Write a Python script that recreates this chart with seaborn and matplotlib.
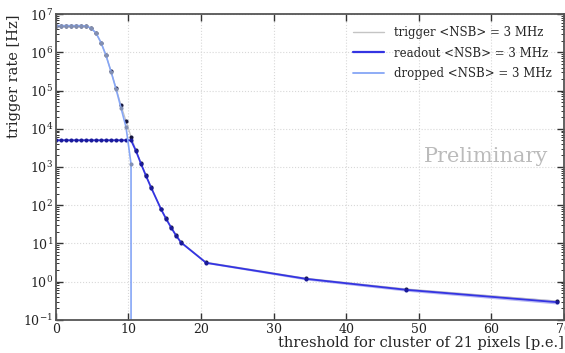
import numpy as np
import pandas as pd
import matplotlib
matplotlib.use('Agg')
import matplotlib.pyplot as plt
from matplotlib.lines import Line2D
import seaborn as sns

# valores
x_flat = [0.0, 0.69, 1.38, 2.07, 2.76, 3.45, 4.14, 4.83, 5.52, 6.21,
          6.9, 7.59, 8.28, 8.97, 9.66, 10.35]
x_tail = [11.04, 11.73, 12.42, 13.11, 14.49, 15.18, 15.87, 16.56, 17.25,
          20.7, 34.5, 48.3, 69.0]

trigger_flat = [5.0e6, 5.0e6, 5.0e6, 5.0e6, 5.0e6, 5.0e6, 4.9e6, 4.3e6, 3.2e6,
                1.8e6, 8.3e5, 3.2e5, 1.15e5, 4.1e4, 1.6e4, 6.2e3]
trigger_tail = [2.7e3, 1.25e3, 6.0e2, 3.0e2, 80, 45, 27, 16.5, 10.8,
                3.2, 1.22, 0.64, 0.31]

readout_flat = [5.0e3] * 16
readout_tail = [2.6e3, 1.2e3, 5.8e2, 2.9e2, 78, 44, 26, 16, 10.5,
                3.1, 1.18, 0.61, 0.29]

dropped_flat = [5.0e6, 5.0e6, 5.0e6, 5.0e6, 5.0e6, 5.0e6, 4.9e6, 4.3e6, 3.2e6,
                1.8e6, 8.3e5, 3.15e5, 1.1e5, 3.5e4, 1.1e4, 1.2e3]
dropped_tail = [0.0]

# banda de error del readout (solo visible en la cola)
band_x = [17.25, 20.7, 34.5, 48.3, 69.0]
band_lo = [10.2, 2.98, 1.10, 0.56, 0.26]
band_hi = [10.8, 3.22, 1.26, 0.67, 0.33]

labels = ['trigger <NSB> = 3 MHz', 'readout <NSB> = 3 MHz', 'dropped <NSB> = 3 MHz']

df_trig = pd.DataFrame({'x': x_flat + x_tail, 'y': trigger_flat + trigger_tail})
df_read = pd.DataFrame({'x': x_flat + x_tail, 'y': readout_flat + readout_tail})
df_drop = pd.DataFrame({'x': x_flat + x_tail[:1], 'y': dropped_flat + dropped_tail})

sns.set_style('ticks')
plt.rcParams['font.family'] = ['DejaVu Serif']
plt.rcParams['mathtext.fontset'] = 'dejavuserif'
plt.rcParams['xtick.direction'] = 'in'
plt.rcParams['ytick.direction'] = 'in'

fig = plt.figure(figsize=(5.65, 3.53), dpi=100)
ax = fig.add_axes([0.099, 0.094, 0.899, 0.866])

c_trig = '#c4c4c4'
c_read = '#3434e2'
c_drop = '#86a6f6'

ax.fill_between(band_x, band_lo, band_hi, color=c_read, alpha=0.35, lw=0)
sns.lineplot(data=df_trig, x='x', y='y', ax=ax, color=c_trig, lw=0.9,
             marker='o', markersize=2.2, markerfacecolor='#14143a',
             markeredgecolor='#14143a', sort=False, estimator=None)
sns.lineplot(data=df_read, x='x', y='y', ax=ax, color=c_read, lw=1.3,
             marker='o', markersize=2.2, markerfacecolor='#1a1a99',
             markeredgecolor='#1a1a99', sort=False, estimator=None)
sns.lineplot(data=df_drop, x='x', y='y', ax=ax, color=c_drop, lw=1.2,
             marker='o', markersize=2.2, markerfacecolor='#8290b4',
             markeredgecolor='#8290b4', sort=False, estimator=None)

ax.set_yscale('log')
ax.set_xlim(0, 70)
ax.set_ylim(1e-1, 1e7)
ax.set_xticks([0, 10, 20, 30, 40, 50, 60, 70])
ax.set_yticks([10.0 ** e for e in range(-1, 8)])
ax.grid(True, which='major', color='#d8d8d8', linestyle=':', linewidth=0.8)

ax.tick_params(which='both', top=True, right=True, labelsize=9,
               colors='#333333', labelcolor='#222222', pad=2)
ax.tick_params(which='major', length=5, width=1)
ax.tick_params(which='minor', length=2.5, width=0.7)
for s in ax.spines.values():
    s.set_color('#555555')
    s.set_linewidth(1.3)

ax.set_xlabel('threshold for cluster of 21 pixels [p.e.]', loc='right',
              fontsize=10.5, labelpad=0)
ax.set_ylabel('trigger rate [Hz]', loc='top', fontsize=10.5, labelpad=2)

ax.text(0.97, 0.533, 'Preliminary', transform=ax.transAxes, ha='right',
        va='center', fontsize=15, color='#bbbbbb')

handles = [Line2D([], [], color=c_trig, lw=1.0),
           Line2D([], [], color=c_read, lw=1.6),
           Line2D([], [], color=c_drop, lw=1.3)]
ax.legend(handles, labels, loc='upper right', frameon=False, fontsize=8.5,
          handlelength=2.6, handletextpad=0.9, labelspacing=0.65,
          borderaxespad=0.6)

fig.savefig('out.png', dpi=100)
